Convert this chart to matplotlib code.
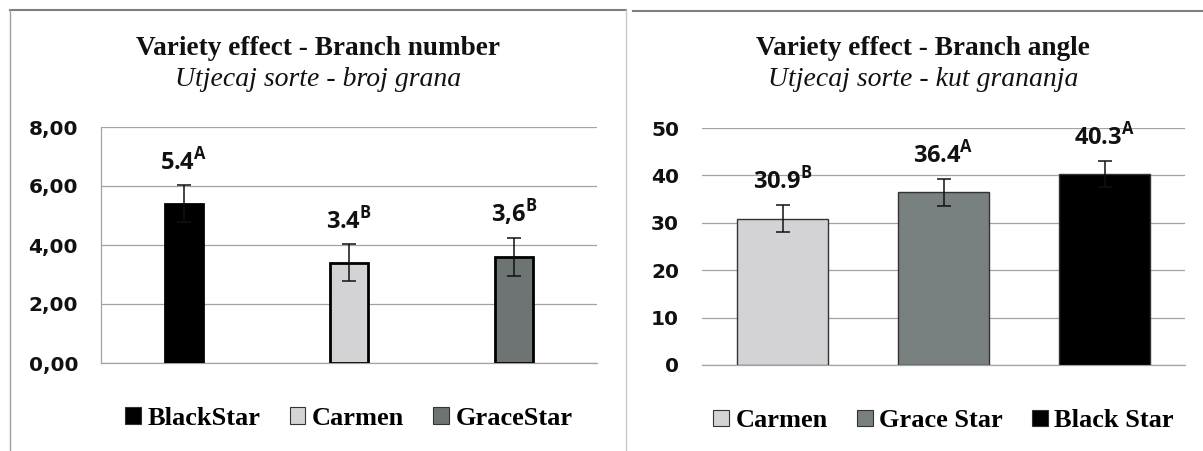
import matplotlib
matplotlib.use("Agg")
import matplotlib.pyplot as plt
from matplotlib.patches import Patch
from matplotlib.lines import Line2D

plt.rcParams['mathtext.fontset'] = 'custom'
plt.rcParams['mathtext.rm'] = 'Open Sans'
plt.rcParams['mathtext.bf'] = 'Open Sans:bold'

# data - branch number
num_names = ['BlackStar', 'Carmen', 'GraceStar']
num_values = [5.4, 3.4, 3.6]
num_err = [0.62, 0.62, 0.65]
num_text = ['5.4', '3.4', '3{,}6']
num_letters = ['A', 'B', 'B']

# data - branch angle
ang_names = ['Carmen', 'Grace Star', 'Black Star']
ang_values = [30.9, 36.4, 40.3]
ang_err = [2.8, 2.8, 2.7]
ang_text = ['30.9', '36.4', '40.3']
ang_letters = ['B', 'A', 'A']

colors = {'BlackStar': '#000000', 'Black Star': '#000000',
          'Carmen': '#d3d3d5',
          'GraceStar': '#6e7474', 'Grace Star': '#788080'}

W, H = 1203, 451
fig = plt.figure(figsize=(W / 100, H / 100), dpi=100)


def px_rect(l, t, r, b):
    return [l / W, 1 - b / H, (r - l) / W, (b - t) / H]


def fig_line(x0, y0, x1, y1, color, lw):
    fig.add_artist(Line2D([x0 / W, x1 / W], [1 - y0 / H, 1 - y1 / H],
                          transform=fig.transFigure, color=color, lw=lw))


serif = 'Liberation Serif'
grid_c = '#a3a3a3'


def panel(rect, names, values, err, texts, letters, ylim, step, fmt,
          width, edge_lw, edge_c, left_spine, title, sub, tcx):
    ax = fig.add_axes(px_rect(*rect))
    x = list(range(len(names)))
    ax.bar(x, values, width=width, color=[colors[n] for n in names],
           edgecolor=edge_c, linewidth=edge_lw, zorder=3)
    ax.errorbar(x, values, yerr=err, fmt='none', ecolor='#111111',
                elinewidth=1.1, capsize=5, capthick=1.1, zorder=4)
    for xi, v, e, t, l in zip(x, values, err, texts, letters):
        ax.annotate(r'$\mathbf{%s}^{\mathbf{%s}}$' % (t, l), xy=(xi, v + e),
                    xytext=(0, 16), textcoords='offset pixels',
                    ha='center', va='baseline', fontsize=17, color='#111111')
    ax.set_xlim(-0.5, len(names) - 0.5)
    ax.set_ylim(*ylim)
    ticks = [ylim[0] + step * i for i in range(int((ylim[1] - ylim[0]) / step) + 1)]
    ax.set_yticks(ticks)
    ax.set_yticklabels([fmt(t) for t in ticks], fontsize=14.5, fontweight='bold',
                       family='DejaVu Sans', color='#111111')
    ax.tick_params(axis='y', length=0, pad=16.5)
    ax.set_xticks([])
    ax.yaxis.grid(True, color=grid_c, lw=0.9)
    ax.set_axisbelow(True)
    for s in ['top', 'right']:
        ax.spines[s].set_visible(False)
    ax.spines['bottom'].set_color(grid_c)
    ax.spines['bottom'].set_linewidth(0.9)
    ax.spines['left'].set_visible(left_spine)
    ax.spines['left'].set_color(grid_c)
    ax.spines['left'].set_linewidth(0.9)
    handles = [Patch(facecolor=colors[n], edgecolor='#333333', lw=0.8) for n in names]
    ax.legend(handles, names, loc='center', bbox_to_anchor=(0.5, -0.235),
              ncol=3, frameon=False, handlelength=0.6, handleheight=0.6,
              handletextpad=0.25, columnspacing=1.1,
              prop={'family': serif, 'weight': 'bold', 'size': 19})
    fig.text(tcx / W, 1 - 55 / H, title, ha='center', va='baseline',
             family=serif, fontweight='bold', fontsize=19.6, color='#111111')
    fig.text(tcx / W, 1 - 86 / H, sub, ha='center', va='baseline',
             family=serif, style='italic', fontsize=20, color='#111111')
    return ax


panel((101, 127, 597, 363), num_names, num_values, num_err, num_text,
      num_letters, (0, 8), 2, lambda t: ('%.2f' % t).replace('.', ','),
      0.23, 2.0, '#000000', True,
      'Variety effect - Branch number', 'Utjecaj sorte - broj grana', 318)

panel((702, 128, 1185, 365), ang_names, ang_values, ang_err, ang_text,
      ang_letters, (0, 50), 10, lambda t: '%d' % t,
      0.57, 1.0, '#333333', False,
      'Variety effect - Branch angle', 'Utjecaj sorte - kut grananja', 923)

# chart frames
fig_line(10, 10, 626, 10, '#7a8080', 1.5)
fig_line(10, 10, 10, 451, '#a0a0a0', 1.0)
fig_line(626, 10, 626, 451, '#c8c8c8', 1.0)
fig_line(633, 10.5, 1203, 10.5, '#7a8080', 1.5)

fig.savefig('out.png', dpi=100)
